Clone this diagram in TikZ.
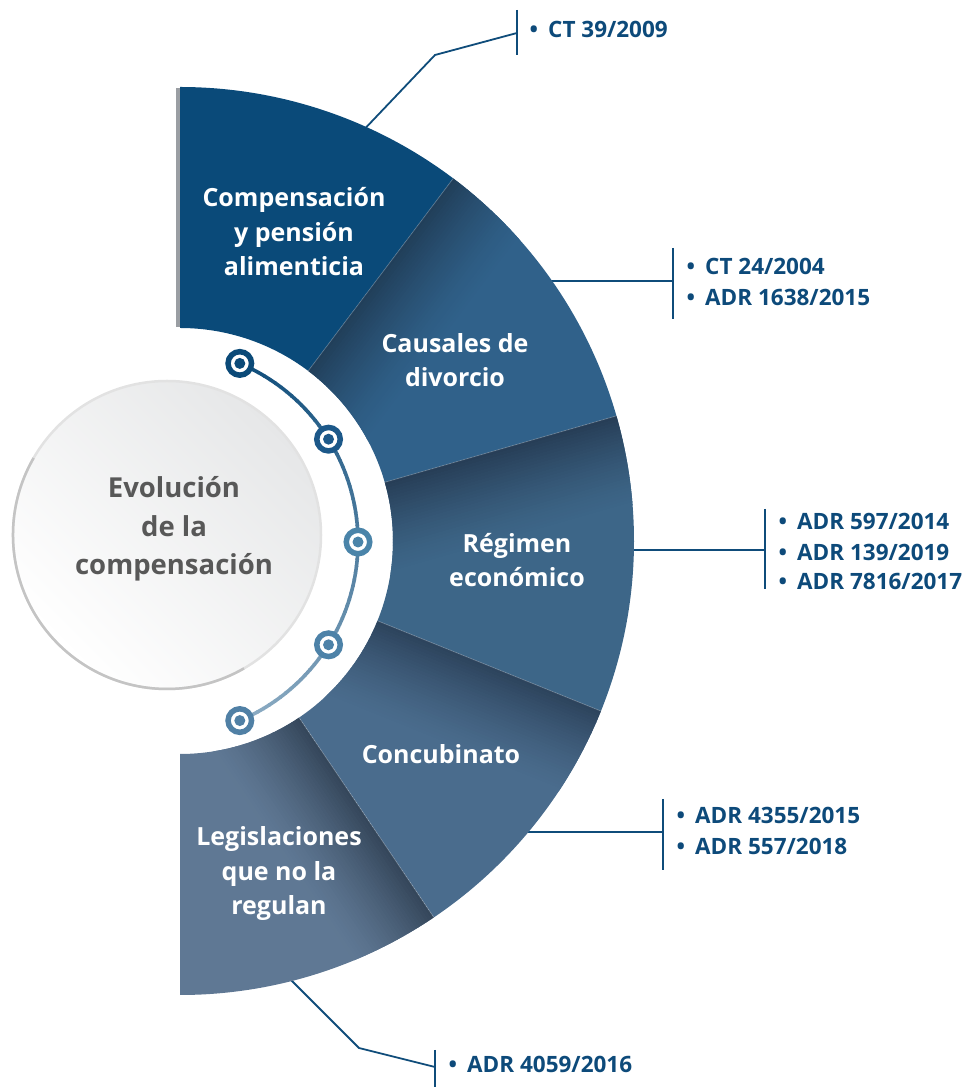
\documentclass[tikz,border=0pt]{standalone}
\usepackage{fontspec}
\setmainfont{Open Sans}
\usetikzlibrary{calc}
\definecolor{segA}{HTML}{0A4A79}
\definecolor{segB}{HTML}{30618A}
\definecolor{segBd}{HTML}{213F5A}
\definecolor{segC}{HTML}{3D6688}
\definecolor{segCd}{HTML}{273E57}
\definecolor{segD}{HTML}{4A6C8D}
\definecolor{segDd}{HTML}{2D445D}
\definecolor{segE}{HTML}{5F7894}
\definecolor{segEd}{HTML}{35475B}
\definecolor{stripgray}{HTML}{9A9EA3}
\definecolor{linec}{HTML}{0F4C7A}
\definecolor{txtblue}{HTML}{0D4A7A}
\definecolor{txtgray}{HTML}{585858}
\definecolor{mkA}{HTML}{0B4A78}
\definecolor{mkB}{HTML}{1C5889}
\definecolor{mkC}{HTML}{4A84A9}
\definecolor{mkD}{HTML}{4D82A8}
\definecolor{mkE}{HTML}{5080A5}
\definecolor{arcdark}{HTML}{0E4C7A}
\definecolor{arclight}{HTML}{8EADC4}
\definecolor{circtop}{HTML}{E6E7E8}
\definecolor{rimlight}{HTML}{E2E2E2}
\definecolor{rimdark}{HTML}{C4C4C4}
\tikzset{
  seglabel/.style={text=white, font=\bfseries\fontsize{25}{34.5}\selectfont, align=center, anchor=base, inner sep=0pt},
  item/.style={text=txtblue, font=\bfseries\fontsize{22.5}{27}\selectfont, anchor=base west, inner sep=0pt},
  leader/.style={draw=linec, line width=1.8pt},
  marker/.style={circle, draw=#1, line width=5.5pt, fill=white, minimum size=23.5pt, inner sep=0pt,
    path picture={\fill[#1] (path picture bounding box.center) circle (5.5pt);}},
}
\newcommand{\bul}{\llap{•\hspace{10pt}}}
\begin{document}
\begin{tikzpicture}[x=1pt,y=1pt]
\useasboundingbox (0,0) rectangle (966,1087);

% ---- leader lines (drawn beneath the segments) ----
\coordinate (s1) at (357,950);   \coordinate (k1) at (435,1032);  \coordinate (e1) at (517,1054);
\coordinate (t1) at (517,1077);  \coordinate (u1) at (517,1032);
\coordinate (s2) at (540,806);   \coordinate (e2) at (673,806);
\coordinate (t2) at (673,839);   \coordinate (u2) at (673,768);
\coordinate (s3) at (625,537);   \coordinate (e3) at (765,537);
\coordinate (t3) at (765,578);   \coordinate (u3) at (765,498);
\coordinate (s4) at (520,255);   \coordinate (e4) at (663,255);
\coordinate (t4) at (663,288);   \coordinate (u4) at (663,217);
\coordinate (s5) at (285,113);   \coordinate (k5) at (359,39);    \coordinate (e5) at (435,20);
\coordinate (t5) at (435,37);    \coordinate (u5) at (435,0);
\draw[leader] (s1) -- (k1) -- (e1);  \draw[leader] (t1) -- (u1);
\draw[leader] (s2) -- (e2);          \draw[leader] (t2) -- (u2);
\draw[leader] (s3) -- (e3);          \draw[leader] (t3) -- (u3);
\draw[leader] (s4) -- (e4);          \draw[leader] (t4) -- (u4);
\draw[leader] (s5) -- (k5) -- (e5);  \draw[leader] (t5) -- (u5);

% ---- half ring of segments ----
\begin{scope}[shift={(180,546)}]
  \fill[stripgray] (-4,213.5) rectangle (0.5,453);
  \fill[segA] (90:454) arc[start angle=90, end angle=53, radius=454] -- (53:213) arc[start angle=53, end angle=90, radius=213] -- cycle;
  \foreach \a/\b/\base/\dark in {53/16/segB/segBd, 16/-22/segC/segCd, -22/-56/segD/segDd, -56/-90/segE/segEd}{
    \begin{scope}
      \clip (\a:454) arc[start angle=\a, end angle=\b, radius=454] -- (\b:213) arc[start angle=\b, end angle=\a, radius=213] -- cycle;
      \fill[\base] (-10,-470) rectangle (470,470);
      \begin{scope}[rotate=\a]
        \foreach \j in {0,...,29}{
          \pgfmathsetmacro{\p}{100*(1-\j/30)^1.4}
          \fill[\dark!\p!\base] (150,{-3*(\j+1)-0.4}) rectangle (480,{-3*\j});
        }
      \end{scope}
    \end{scope}
  }
  \foreach \a in {53,16,-22,-56}{
    \draw[white, opacity=0.22, line width=0.8pt] (\a:213) -- (\a:454);
  }
\end{scope}

% ---- central circle ----
\shade[shading=axis, top color=circtop, bottom color=white, shading angle=-45] (167,552) circle (154);
\draw[rimlight, line width=2.5pt] (167,552) circle (154);
\draw[rimdark, line width=2.5pt] ([shift={(150:154)}]167,552) arc[start angle=150, end angle=300, radius=154];
\node[text=txtgray, font=\bfseries\fontsize{27.5}{38.5}\selectfont, align=center, anchor=base, inner sep=0pt]
  (center) at (174,512) {Evolución\\de la\\compensación};

% ---- timeline arc with markers ----
\foreach \i in {0,...,66}{
  \pgfmathsetmacro{\st}{67-2*\i}
  \pgfmathsetmacro{\en}{65-2*\i}
  \pgfmathsetmacro{\pc}{100-100*\i/66}
  \draw[arcdark!\pc!arclight, line width=3.6pt] ([shift={(\st:194)}]164,545) arc[start angle=\st, end angle=\en-0.3, radius=194];
}
\node[marker=mkA] (m1) at ([shift={(67:194)}]164,545) {};
\node[marker=mkB] (m2) at ([shift={(32:194)}]164,545) {};
\node[marker=mkC] (m3) at ([shift={(0:194)}]164,545) {};
\node[marker=mkD] (m4) at ([shift={(-32:194)}]164,545) {};
\node[marker=mkE] (m5) at ([shift={(-67:194)}]164,545) {};

% ---- segment labels (base = last line) ----
\node[seglabel] (lab1) at (294,811) {Compensación\\y pensión\\alimenticia};
\node[seglabel] (lab2) at (455,700) {Causales de\\divorcio};
\node[seglabel] (lab3) at (517,500) {Régimen\\económico};
\node[seglabel] (lab4) at (441,323) {Concubinato};
\node[seglabel] (lab5) at (279,172) {Legislaciones\\que no la\\regulan};

% ---- case lists ----
\node[item] (i1a) at (548,1049) {\bul CT 39/2009};
\node[item] (i2a) at (705,812) {\bul CT 24/2004};
\node[item] (i2b) at (705,781) {\bul ADR 1638/2015};
\node[item] (i3a) at (797,557) {\bul ADR 597/2014};
\node[item] (i3b) at (797,526) {\bul ADR 139/2019};
\node[item] (i3c) at (797,497) {\bul ADR 7816/2017};
\node[item] (i4a) at (695,263) {\bul ADR 4355/2015};
\node[item] (i4b) at (695,232) {\bul ADR 557/2018};
\node[item] (i5a) at (467,14) {\bul ADR 4059/2016};
\end{tikzpicture}
\end{document}
